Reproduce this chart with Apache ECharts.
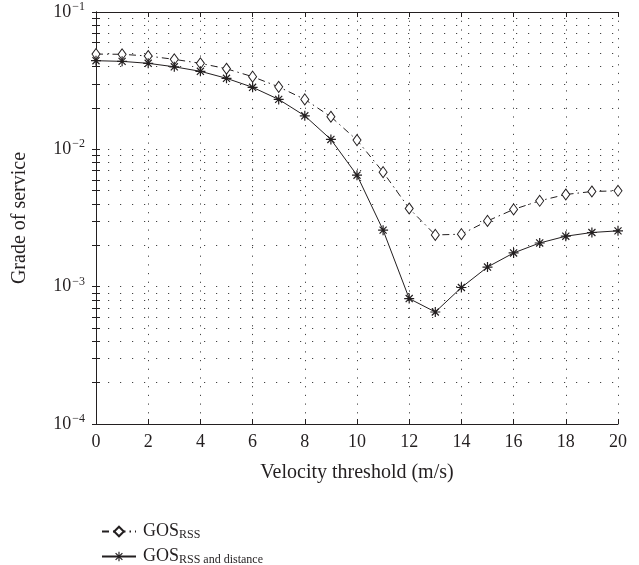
<!DOCTYPE html>
<html>
<head>
<meta charset="utf-8">
<script src="https://cdn.jsdelivr.net/npm/echarts@6/dist/echarts.min.js"></script>
<style>html,body{margin:0;padding:0;background:#fff;}#c{width:639px;height:565px;}</style>
</head>
<body>
<div id="c"></div>
<script>
const velocity = [0,1,2,3,4,5,6,7,8,9,10,11,12,13,14,15,16,17,18,19,20];
const gosRss = [0.0494,0.0492,0.0478,0.0452,0.0423,0.0386,0.0338,0.0285,0.0231,0.01726,0.01167,0.00682,0.00371,0.00238,0.00241,0.00301,0.00365,0.00422,0.00469,0.00493,0.00499];
const gosRssDist = [0.0442,0.0437,0.0423,0.0399,0.0370,0.0329,0.0283,0.0231,0.01754,0.0118,0.00648,0.00258,0.000819,0.000654,0.000986,0.00139,0.00176,0.00208,0.00233,0.00248,0.00255];
const xTicks = [0,2,4,6,8,10,12,14,16,18,20];
const yMajorTicks = [1e-4,1e-3,1e-2,1e-1];
const yMinorMultipliers = [2,3,4,5,6,7,8,9];
const seriesNames = ['GOS_RSS','GOS_RSS_DIST'];

const yAllTicks = [];
yMajorTicks.forEach(function(m, i){
  yAllTicks.push(m);
  if (i < yMajorTicks.length - 1) yMinorMultipliers.forEach(function(k){ yAllTicks.push(+(m*k).toPrecision(3)); });
});

const FONT = '"Liberation Serif","DejaVu Serif",serif';
const INK = '#231f20';
const starPath = 'path://M-5 -0.6L5 -0.6L5 0.6L-5 0.6Z M-0.6 -5L0.6 -5L0.6 5L-0.6 5Z M-3.111 -3.960L3.960 3.111L3.111 3.960L-3.960 -3.111Z M-3.960 3.111L3.111 -3.960L3.960 -3.111L-3.111 3.960Z';

function supLabel(v){
  const e = Math.round(Math.log10(v));
  return '{b|10}{s|' + String(e).replace('-', '\u2212') + '}';
}
function legendText(n){
  return n === 'GOS_RSS' ? '{m|GOS}{s|RSS}' : '{m|GOS}{s|RSS and distance}';
}
const legendBase = {
  orient:'vertical', left:96, itemWidth:34, itemHeight:12,
  formatter:legendText,
  textStyle:{fontFamily:FONT, color:INK,
    rich:{
      m:{fontFamily:FONT, fontSize:18, color:INK, lineHeight:20, padding:[0,0,0,2]},
      s:{fontFamily:FONT, fontSize:12, color:INK, lineHeight:20, padding:[7,0,0,0]}
    }}
};

const chart = echarts.init(document.getElementById('c'), null, {renderer:'canvas'});
const yBase = {
  type:'log', logBase:10, min:1e-4, max:1e-1,
  axisLine:{show:true, lineStyle:{color:INK, width:1}},
  axisTick:{show:true, inside:true, length:4, customValues:yAllTicks, lineStyle:{color:INK, width:1}},
  minorTick:{show:false}
};
chart.setOption({
  animation:false,
  backgroundColor:'#fff',
  textStyle:{fontFamily:FONT, color:INK},
  grid:{left:96, right:21, top:12, bottom:141, containLabel:false},
  xAxis:[{
    type:'value', min:0, max:20, interval:2, position:'bottom',
    name:'Velocity threshold (m/s)', nameLocation:'middle', nameGap:39,
    nameTextStyle:{fontFamily:FONT, fontSize:20, color:INK},
    axisLine:{show:true, lineStyle:{color:INK, width:1}},
    axisTick:{show:true, inside:true, length:5, lineStyle:{color:INK}},
    axisLabel:{fontFamily:FONT, fontSize:18, color:INK, margin:9},
    splitLine:{show:true, lineStyle:{color:'#444', width:1, type:[1.2,7.5]}}
  },{
    type:'value', min:0, max:20, interval:2, position:'top',
    axisLine:{show:true, lineStyle:{color:INK, width:1}},
    axisTick:{show:true, inside:true, length:5, lineStyle:{color:INK}},
    axisLabel:{show:false}, splitLine:{show:false}
  }],
  yAxis:[Object.assign({}, yBase, {
    position:'left',
    name:'Grade of service', nameLocation:'middle', nameGap:66, nameRotate:90,
    nameTextStyle:{fontFamily:FONT, fontSize:20, color:INK},
    axisLabel:{show:true, customValues:yMajorTicks, formatter:supLabel, margin:11,
      rich:{
        b:{fontFamily:FONT, fontSize:18, color:INK, lineHeight:20},
        s:{fontFamily:FONT, fontSize:12, color:INK, lineHeight:20, padding:[0,0,10,1]}
      }},
    splitLine:{show:true, customValues:yAllTicks, lineStyle:{color:'#444', width:1, type:[1.2,10.8]}}
  }), Object.assign({}, yBase, {
    position:'right',
    axisLabel:{show:false}, splitLine:{show:false}
  })],
  legend:[
    Object.assign({}, legendBase, {top:517, data:[seriesNames[0]]}),
    Object.assign({}, legendBase, {top:542, data:[seriesNames[1]]})
  ],
  series:[{
    name:seriesNames[0], type:'line', xAxisIndex:0, yAxisIndex:0,
    data:velocity.map(function(x,i){return [x, gosRss[i]];}),
    symbol:'diamond', symbolSize:[8,11], showAllSymbol:true,
    lineStyle:{color:INK, width:1, type:[7,4,1.5,4]},
    itemStyle:{color:'#fff', borderColor:INK, borderWidth:1}
  },{
    name:seriesNames[1], type:'line', xAxisIndex:0, yAxisIndex:0,
    data:velocity.map(function(x,i){return [x, gosRssDist[i]];}),
    symbol:starPath, symbolSize:10, showAllSymbol:true,
    lineStyle:{color:INK, width:1, type:'solid'},
    itemStyle:{color:INK, borderWidth:0}
  }]
});
</script>
</body>
</html>
